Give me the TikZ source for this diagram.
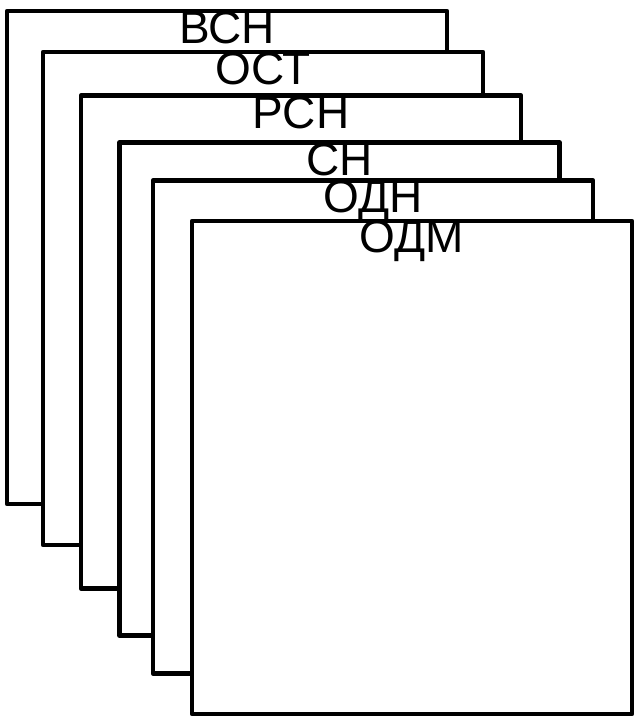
\documentclass[tikz,border=0pt]{standalone}
\usepackage{fontspec}
\setmainfont{Liberation Sans}
\usetikzlibrary{positioning}

\begin{document}
\begin{tikzpicture}[
    x=1pt, y=-1pt,
    sheet/.style={draw, fill=white, line width=4.5pt, line join=round, minimum width=440pt, minimum height=493pt, inner sep=0pt},
    tag/.style={anchor=base, font=\fontsize{46}{46}\selectfont, inner sep=0pt}
]
\useasboundingbox (0,0) rectangle (635,716);
\node[sheet] (vsn) at (227,257.5) {};
\node[tag] (vsntag) at ([yshift=-35pt]vsn.north) {ВСН};
\node[sheet] (ost) at (263,298.5) {};
\node[tag] (osttag) at ([yshift=-35pt]ost.north) {ОСТ};
\node[sheet] (rsn) at (301,342) {};
\node[tag] (rsntag) at ([yshift=-35pt]rsn.north) {РСН};
\node[sheet] (sn) at (339.5,389) {};
\node[tag] (sntag) at ([yshift=-35pt]sn.north) {СН};
\node[sheet] (odn) at (373,427) {};
\node[tag] (odntag) at ([yshift=-34pt]odn.north) {ОДН};
\node[sheet] (odm) at (412,467.5) {};
\node[tag] (odmtag) at ([yshift=-34pt]odm.north) {ОДМ};
\end{tikzpicture}
\end{document}
